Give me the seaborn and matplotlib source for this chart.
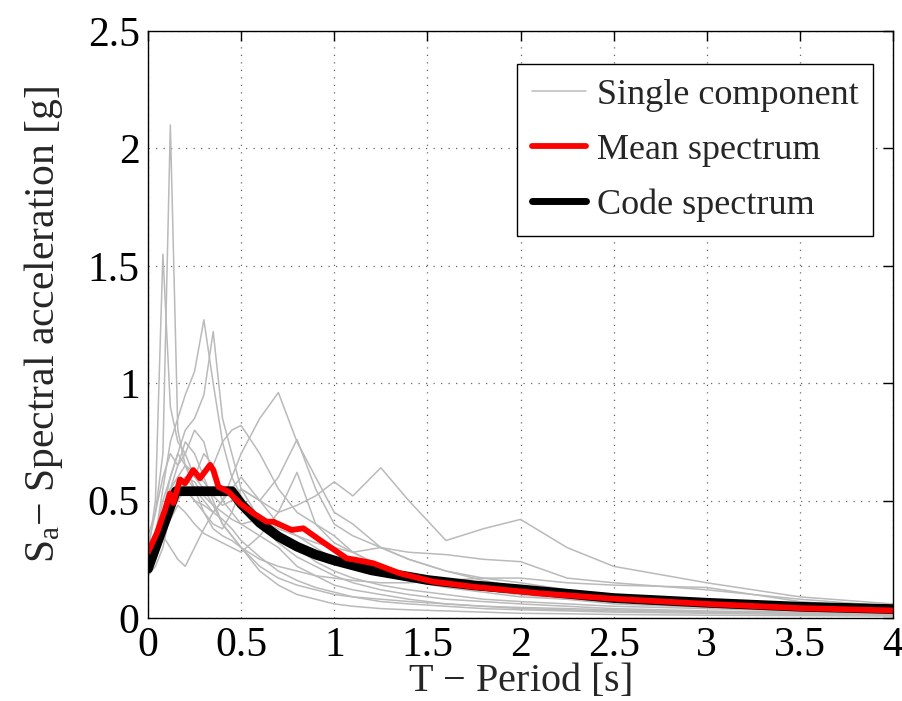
import numpy as np
import pandas as pd
import matplotlib
matplotlib.use("Agg")
import matplotlib.pyplot as plt
from matplotlib.lines import Line2D
import seaborn as sns

# ---------------- data ----------------
periods = [0, 0.04, 0.08, 0.12, 0.16, 0.2, 0.25, 0.3, 0.35, 0.4, 0.45, 0.5,
           0.6, 0.7, 0.8, 0.9, 1.0, 1.1, 1.25, 1.4, 1.6, 1.8, 2.0, 2.25,
           2.5, 3.0, 3.5, 4.0]

rec01 = [0.30, 0.45, 0.70, 2.10, 0.80, 0.65, 0.55, 0.50, 0.45, 0.42, 0.38, 0.33, 0.26, 0.20, 0.16, 0.13, 0.11, 0.09, 0.07, 0.06, 0.05, 0.04, 0.035, 0.03, 0.025, 0.02, 0.015, 0.012]
rec02 = [0.28, 0.50, 1.55, 0.90, 0.75, 0.70, 0.60, 0.55, 0.48, 0.40, 0.35, 0.30, 0.22, 0.17, 0.14, 0.12, 0.10, 0.09, 0.08, 0.07, 0.06, 0.05, 0.045, 0.04, 0.035, 0.025, 0.02, 0.015]
rec03 = [0.25, 0.35, 0.55, 0.75, 0.85, 0.95, 1.05, 1.27, 1.00, 0.75, 0.60, 0.52, 0.40, 0.32, 0.26, 0.22, 0.18, 0.15, 0.12, 0.10, 0.08, 0.07, 0.06, 0.05, 0.04, 0.03, 0.025, 0.02]
rec04 = [0.22, 0.30, 0.45, 0.60, 0.70, 0.80, 0.85, 0.95, 1.22, 0.85, 0.70, 0.55, 0.42, 0.36, 0.30, 0.24, 0.20, 0.17, 0.14, 0.12, 0.10, 0.08, 0.07, 0.06, 0.05, 0.04, 0.03, 0.025]
rec05 = [0.20, 0.25, 0.35, 0.45, 0.50, 0.55, 0.50, 0.48, 0.45, 0.50, 0.60, 0.70, 0.85, 0.96, 0.75, 0.60, 0.45, 0.40, 0.30, 0.25, 0.20, 0.17, 0.15, 0.12, 0.10, 0.07, 0.05, 0.04]
rec06 = [0.24, 0.30, 0.45, 0.55, 0.60, 0.55, 0.50, 0.45, 0.40, 0.38, 0.45, 0.55, 0.50, 0.60, 0.76, 0.55, 0.40, 0.35, 0.30, 0.25, 0.20, 0.16, 0.13, 0.11, 0.09, 0.07, 0.05, 0.04]
rec07 = [0.30, 0.35, 0.45, 0.55, 0.60, 0.65, 0.62, 0.58, 0.52, 0.48, 0.50, 0.55, 0.50, 0.45, 0.48, 0.52, 0.58, 0.52, 0.64, 0.50, 0.33, 0.38, 0.42, 0.30, 0.22, 0.15, 0.09, 0.06]
rec08 = [0.26, 0.32, 0.45, 0.50, 0.55, 0.60, 0.58, 0.52, 0.48, 0.45, 0.42, 0.40, 0.42, 0.38, 0.35, 0.32, 0.30, 0.28, 0.30, 0.28, 0.27, 0.25, 0.24, 0.17, 0.15, 0.12, 0.08, 0.05]
rec09 = [0.20, 0.28, 0.40, 0.55, 0.65, 0.75, 0.70, 0.60, 0.50, 0.40, 0.35, 0.30, 0.25, 0.22, 0.20, 0.18, 0.17, 0.16, 0.15, 0.15, 0.16, 0.17, 0.17, 0.15, 0.14, 0.13, 0.07, 0.04]
rec10 = [0.18, 0.22, 0.30, 0.45, 0.55, 0.60, 0.55, 0.45, 0.38, 0.35, 0.33, 0.30, 0.20, 0.14, 0.10, 0.08, 0.06, 0.05, 0.04, 0.035, 0.03, 0.025, 0.02, 0.018, 0.015, 0.012, 0.01, 0.008]
rec11 = [0.35, 0.45, 0.60, 0.70, 0.65, 0.70, 0.80, 0.75, 0.60, 0.50, 0.45, 0.40, 0.35, 0.30, 0.22, 0.18, 0.14, 0.12, 0.10, 0.08, 0.06, 0.05, 0.04, 0.035, 0.03, 0.025, 0.02, 0.015]
rec12 = [0.25, 0.30, 0.35, 0.30, 0.25, 0.22, 0.30, 0.38, 0.45, 0.50, 0.55, 0.60, 0.50, 0.40, 0.35, 0.30, 0.25, 0.22, 0.20, 0.16, 0.13, 0.11, 0.09, 0.08, 0.07, 0.05, 0.035, 0.025]
rec13 = [0.30, 0.35, 0.50, 0.60, 0.70, 0.65, 0.60, 0.70, 0.65, 0.75, 0.80, 0.82, 0.70, 0.55, 0.45, 0.40, 0.35, 0.28, 0.22, 0.18, 0.14, 0.12, 0.10, 0.08, 0.06, 0.045, 0.035, 0.03]
rec14 = [0.22, 0.26, 0.35, 0.42, 0.48, 0.45, 0.40, 0.36, 0.34, 0.32, 0.30, 0.28, 0.35, 0.45, 0.62, 0.40, 0.32, 0.28, 0.22, 0.18, 0.14, 0.12, 0.10, 0.09, 0.08, 0.06, 0.04, 0.03]
records = [rec01, rec02, rec03, rec04, rec05, rec06, rec07,
           rec08, rec09, rec10, rec11, rec12, rec13, rec14]

mean_T = [0, 0.047, 0.091, 0.118, 0.136, 0.172, 0.199, 0.243, 0.279, 0.333,
          0.351, 0.378, 0.431, 0.494, 0.566, 0.637, 0.673, 0.771, 0.834,
          0.923, 1.067, 1.12, 1.21, 1.353, 1.53, 1.747, 1.926, 2.105, 2.5,
          3.0, 3.5, 4.0]
mean_Sa = [0.28, 0.36, 0.46, 0.53, 0.49, 0.59, 0.574, 0.63, 0.595, 0.652,
           0.63, 0.559, 0.538, 0.488, 0.446, 0.41, 0.41, 0.375, 0.382,
           0.332, 0.254, 0.247, 0.233, 0.19, 0.155, 0.133, 0.119, 0.105,
           0.082, 0.06, 0.042, 0.032]

code_T = [0, 0.15, 0.45, 0.5, 0.6, 0.7, 0.8, 0.9, 1.0, 1.2, 1.5, 1.75, 2.0,
          2.5, 3.0, 3.5, 4.0]
code_Sa = [0.21, 0.54, 0.54, 0.486, 0.405, 0.347, 0.304, 0.27, 0.245,
           0.203, 0.162, 0.139, 0.122, 0.085, 0.065, 0.048, 0.038]

x_ticks = [0, 0.5, 1, 1.5, 2, 2.5, 3, 3.5, 4]
x_ticklabels = ["0", "0.5", "1", "1.5", "2", "2.5", "3", "3.5", "4"]
y_ticks = [0, 0.5, 1, 1.5, 2, 2.5]
y_ticklabels = ["0", "0.5", "1", "1.5", "2", "2.5"]

# ---------------- style ----------------
sns.set_theme(style="white")
plt.rcParams["font.family"] = ["Liberation Serif", "DejaVu Serif"]
plt.rcParams["mathtext.fontset"] = "custom"
plt.rcParams["mathtext.rm"] = "Liberation Serif"
plt.rcParams["mathtext.it"] = "Liberation Serif"

fig = plt.figure(figsize=(9.03, 7.01), dpi=100)
ax = fig.add_axes([148 / 903, 1 - 618 / 701, (893 - 148) / 903, (618 - 31) / 701])

rows = []
for i, rec in enumerate(records):
    for t, v in zip(periods, rec):
        rows.append({"T": t, "Sa": v, "rec": f"r{i}"})
df = pd.DataFrame(rows)

gray = "#bababa"
sns.lineplot(data=df, x="T", y="Sa", hue="rec", estimator=None,
             palette=[gray] * len(records), legend=False, linewidth=1.1,
             ax=ax, sort=False)

df_mean = pd.DataFrame({"T": mean_T, "Sa": mean_Sa})
df_code = pd.DataFrame({"T": code_T, "Sa": code_Sa})
sns.lineplot(data=df_code, x="T", y="Sa", color="black", linewidth=7,
             ax=ax, sort=False, estimator=None)
sns.lineplot(data=df_mean, x="T", y="Sa", color="#ff0000", linewidth=4.2,
             ax=ax, sort=False, estimator=None)

ax.set_xlim(0, 4)
ax.set_ylim(0, 2.5)
ax.set_xticks(x_ticks)
ax.set_xticklabels(x_ticklabels)
ax.set_yticks(y_ticks)
ax.set_yticklabels(y_ticklabels)
ax.tick_params(direction="in", length=7, width=1, labelsize=30, pad=6,
               top=True, right=True, colors="black")
ax.grid(True, linestyle=(0, (1, 5)), color="#666666", linewidth=0.9)
for s in ax.spines.values():
    s.set_visible(True)
    s.set_color("black")
    s.set_linewidth(1.0)

ax.set_xlabel("T $-$ Period [s]", fontsize=29, labelpad=-2)
ax.set_ylabel(r"S$_\mathrm{a}$$-$ Spectral acceleration [g]", fontsize=30, labelpad=16)

handles = [Line2D([], [], color=gray, linewidth=1.1),
           Line2D([], [], color="#ff0000", linewidth=4.2),
           Line2D([], [], color="black", linewidth=5)]
leg = ax.legend(handles, ["Single component", "Mean spectrum", "Code spectrum"],
                loc="upper right", bbox_to_anchor=(873 / 903, 1 - 64 / 701),
                bbox_transform=fig.transFigure,
                fontsize=26, frameon=True, fancybox=False, framealpha=1,
                edgecolor="black", handlelength=1.5, handletextpad=0.3,
                labelspacing=0.6, borderpad=0.4, borderaxespad=0)
leg.get_frame().set_linewidth(1.0)

fig.savefig("out.png", dpi=100)
